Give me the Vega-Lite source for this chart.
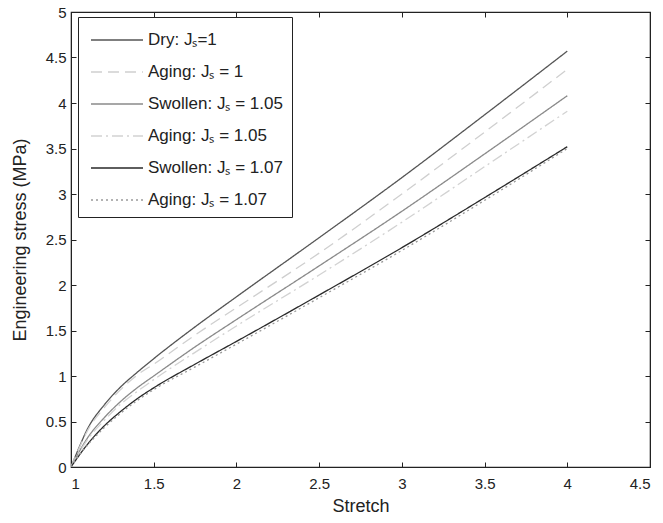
{
  "$schema": "https://vega.github.io/schema/vega-lite/v6.json",
  "width": 579,
  "height": 455,
  "autosize": {"type": "none"},
  "padding": {"left": 71, "top": 12, "right": 13, "bottom": 56},
  "background": "white",
  "config": {
    "font": "Liberation Sans",
    "view": {"stroke": "#222", "strokeWidth": 1.2},
    "axis": {
      "grid": false,
      "domainColor": "#222",
      "tickColor": "#222",
      "tickSize": -5,
      "labelFontSize": 15,
      "labelColor": "#222",
      "titleFontSize": 18,
      "titleFontWeight": "normal",
      "titleColor": "#222",
      "format": "~g"
    },
    "legend": {
      "labelFont": "Liberation Sans",
      "labelFontSize": 17,
      "labelColor": "#222",
      "labelLimit": 400
    }
  },
  "data": {
    "values": [
      {"series": "Dry: Jₛ=1", "stretch": 1, "stress": 0},
      {"series": "Dry: Jₛ=1", "stretch": 1.05, "stress": 0.22},
      {"series": "Dry: Jₛ=1", "stretch": 1.1, "stress": 0.42},
      {"series": "Dry: Jₛ=1", "stretch": 1.2, "stress": 0.68},
      {"series": "Dry: Jₛ=1", "stretch": 1.3, "stress": 0.88},
      {"series": "Dry: Jₛ=1", "stretch": 1.4, "stress": 1.04},
      {"series": "Dry: Jₛ=1", "stretch": 1.5, "stress": 1.19},
      {"series": "Dry: Jₛ=1", "stretch": 1.75, "stress": 1.54},
      {"series": "Dry: Jₛ=1", "stretch": 2, "stress": 1.87},
      {"series": "Dry: Jₛ=1", "stretch": 2.5, "stress": 2.52},
      {"series": "Dry: Jₛ=1", "stretch": 3, "stress": 3.18},
      {"series": "Dry: Jₛ=1", "stretch": 3.5, "stress": 3.87},
      {"series": "Dry: Jₛ=1", "stretch": 4, "stress": 4.57},

      {"series": "Aging: Jₛ = 1", "stretch": 1, "stress": 0},
      {"series": "Aging: Jₛ = 1", "stretch": 1.05, "stress": 0.21},
      {"series": "Aging: Jₛ = 1", "stretch": 1.1, "stress": 0.4},
      {"series": "Aging: Jₛ = 1", "stretch": 1.2, "stress": 0.65},
      {"series": "Aging: Jₛ = 1", "stretch": 1.3, "stress": 0.85},
      {"series": "Aging: Jₛ = 1", "stretch": 1.4, "stress": 1.01},
      {"series": "Aging: Jₛ = 1", "stretch": 1.5, "stress": 1.13},
      {"series": "Aging: Jₛ = 1", "stretch": 1.75, "stress": 1.45},
      {"series": "Aging: Jₛ = 1", "stretch": 2, "stress": 1.75},
      {"series": "Aging: Jₛ = 1", "stretch": 2.5, "stress": 2.35},
      {"series": "Aging: Jₛ = 1", "stretch": 3, "stress": 3.0},
      {"series": "Aging: Jₛ = 1", "stretch": 3.5, "stress": 3.68},
      {"series": "Aging: Jₛ = 1", "stretch": 4, "stress": 4.37},

      {"series": "Swollen: Jₛ = 1.05", "stretch": 1, "stress": 0},
      {"series": "Swollen: Jₛ = 1.05", "stretch": 1.05, "stress": 0.17},
      {"series": "Swollen: Jₛ = 1.05", "stretch": 1.1, "stress": 0.32},
      {"series": "Swollen: Jₛ = 1.05", "stretch": 1.2, "stress": 0.54},
      {"series": "Swollen: Jₛ = 1.05", "stretch": 1.3, "stress": 0.72},
      {"series": "Swollen: Jₛ = 1.05", "stretch": 1.4, "stress": 0.87},
      {"series": "Swollen: Jₛ = 1.05", "stretch": 1.5, "stress": 1.0},
      {"series": "Swollen: Jₛ = 1.05", "stretch": 1.75, "stress": 1.32},
      {"series": "Swollen: Jₛ = 1.05", "stretch": 2, "stress": 1.62},
      {"series": "Swollen: Jₛ = 1.05", "stretch": 2.5, "stress": 2.21},
      {"series": "Swollen: Jₛ = 1.05", "stretch": 3, "stress": 2.81},
      {"series": "Swollen: Jₛ = 1.05", "stretch": 3.5, "stress": 3.44},
      {"series": "Swollen: Jₛ = 1.05", "stretch": 4, "stress": 4.08},

      {"series": "Aging: Jₛ = 1.05", "stretch": 1, "stress": 0},
      {"series": "Aging: Jₛ = 1.05", "stretch": 1.05, "stress": 0.16},
      {"series": "Aging: Jₛ = 1.05", "stretch": 1.1, "stress": 0.3},
      {"series": "Aging: Jₛ = 1.05", "stretch": 1.2, "stress": 0.51},
      {"series": "Aging: Jₛ = 1.05", "stretch": 1.3, "stress": 0.69},
      {"series": "Aging: Jₛ = 1.05", "stretch": 1.4, "stress": 0.83},
      {"series": "Aging: Jₛ = 1.05", "stretch": 1.5, "stress": 0.96},
      {"series": "Aging: Jₛ = 1.05", "stretch": 1.75, "stress": 1.26},
      {"series": "Aging: Jₛ = 1.05", "stretch": 2, "stress": 1.55},
      {"series": "Aging: Jₛ = 1.05", "stretch": 2.5, "stress": 2.11},
      {"series": "Aging: Jₛ = 1.05", "stretch": 3, "stress": 2.69},
      {"series": "Aging: Jₛ = 1.05", "stretch": 3.5, "stress": 3.3},
      {"series": "Aging: Jₛ = 1.05", "stretch": 4, "stress": 3.91},

      {"series": "Swollen: Jₛ = 1.07", "stretch": 1, "stress": 0},
      {"series": "Swollen: Jₛ = 1.07", "stretch": 1.05, "stress": 0.13},
      {"series": "Swollen: Jₛ = 1.07", "stretch": 1.1, "stress": 0.25},
      {"series": "Swollen: Jₛ = 1.07", "stretch": 1.2, "stress": 0.45},
      {"series": "Swollen: Jₛ = 1.07", "stretch": 1.3, "stress": 0.61},
      {"series": "Swollen: Jₛ = 1.07", "stretch": 1.4, "stress": 0.75},
      {"series": "Swollen: Jₛ = 1.07", "stretch": 1.5, "stress": 0.87},
      {"series": "Swollen: Jₛ = 1.07", "stretch": 1.75, "stress": 1.13},
      {"series": "Swollen: Jₛ = 1.07", "stretch": 2, "stress": 1.38},
      {"series": "Swollen: Jₛ = 1.07", "stretch": 2.5, "stress": 1.89},
      {"series": "Swollen: Jₛ = 1.07", "stretch": 3, "stress": 2.41},
      {"series": "Swollen: Jₛ = 1.07", "stretch": 3.5, "stress": 2.96},
      {"series": "Swollen: Jₛ = 1.07", "stretch": 4, "stress": 3.52},

      {"series": "Aging: Jₛ = 1.07", "stretch": 1, "stress": 0},
      {"series": "Aging: Jₛ = 1.07", "stretch": 1.05, "stress": 0.13},
      {"series": "Aging: Jₛ = 1.07", "stretch": 1.1, "stress": 0.24},
      {"series": "Aging: Jₛ = 1.07", "stretch": 1.2, "stress": 0.43},
      {"series": "Aging: Jₛ = 1.07", "stretch": 1.3, "stress": 0.59},
      {"series": "Aging: Jₛ = 1.07", "stretch": 1.4, "stress": 0.73},
      {"series": "Aging: Jₛ = 1.07", "stretch": 1.5, "stress": 0.85},
      {"series": "Aging: Jₛ = 1.07", "stretch": 1.75, "stress": 1.1},
      {"series": "Aging: Jₛ = 1.07", "stretch": 2, "stress": 1.35},
      {"series": "Aging: Jₛ = 1.07", "stretch": 2.5, "stress": 1.86},
      {"series": "Aging: Jₛ = 1.07", "stretch": 3, "stress": 2.38},
      {"series": "Aging: Jₛ = 1.07", "stretch": 3.5, "stress": 2.93},
      {"series": "Aging: Jₛ = 1.07", "stretch": 4, "stress": 3.5}
    ]
  },
  "layer": [
    {
      "mark": {"type": "line", "strokeWidth": 1.3, "interpolate": "monotone", "clip": true},
      "encoding": {
        "x": {
          "field": "stretch", "type": "quantitative",
          "scale": {"domain": [1, 4.5], "nice": false, "zero": false},
          "axis": {"title": "Stretch", "values": [1, 1.5, 2, 2.5, 3, 3.5, 4, 4.5], "labelPadding": 14, "titlePadding": 6}
        },
        "y": {
          "field": "stress", "type": "quantitative",
          "scale": {"domain": [0, 5], "nice": false},
          "axis": {"title": "Engineering stress (MPa)", "values": [0, 0.5, 1, 1.5, 2, 2.5, 3, 3.5, 4, 4.5, 5], "labelPadding": 10, "titlePadding": 16}
        },
        "color": {
          "field": "series", "type": "nominal",
          "scale": {
            "domain": ["Dry: Jₛ=1", "Aging: Jₛ = 1", "Swollen: Jₛ = 1.05", "Aging: Jₛ = 1.05", "Swollen: Jₛ = 1.07", "Aging: Jₛ = 1.07"],
            "range": ["#555555", "#cfcfcf", "#8a8a8a", "#d2d2d2", "#2a2a2a", "#9a9a9a"]
          },
          "legend": {
            "title": null,
            "orient": "none",
            "legendX": 7,
            "legendY": 5,
            "direction": "vertical",
            "strokeColor": "#222",
            "fillColor": "white",
            "padding": 9,
            "symbolType": "M-2,0H2",
            "symbolSize": 676,
            "symbolFillColor": "transparent",
            "symbolStrokeWidth": 1.3,
            "symbolOffset": 16,
            "rowPadding": 10,
            "labelOffset": 17
          }
        },
        "strokeDash": {
          "field": "series", "type": "nominal",
          "scale": {
            "domain": ["Dry: Jₛ=1", "Aging: Jₛ = 1", "Swollen: Jₛ = 1.05", "Aging: Jₛ = 1.05", "Swollen: Jₛ = 1.07", "Aging: Jₛ = 1.07"],
            "range": [[1, 0], [11, 6], [1, 0], [11, 4, 2, 4], [1, 0], [2, 3]]
          },
          "legend": null
        }
      }
    },
    {
      "mark": {"type": "line", "opacity": 0},
      "encoding": {
        "x": {
          "field": "stretch", "type": "quantitative",
          "axis": {"orient": "top", "labels": false, "title": null, "values": [1, 1.5, 2, 2.5, 3, 3.5, 4, 4.5]}
        },
        "y": {
          "field": "stress", "type": "quantitative",
          "axis": {"orient": "right", "labels": false, "title": null, "values": [0, 0.5, 1, 1.5, 2, 2.5, 3, 3.5, 4, 4.5, 5]}
        },
        "detail": {"field": "series"}
      }
    }
  ],
  "resolve": {"axis": {"x": "independent", "y": "independent"}}
}
